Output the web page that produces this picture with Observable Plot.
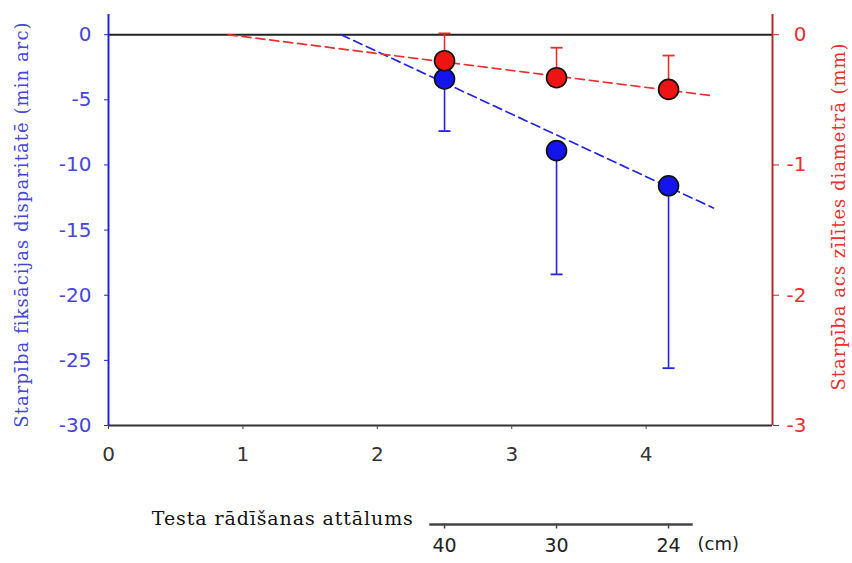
<!DOCTYPE html>
<html><head><meta charset="utf-8">
<script src="https://cdn.jsdelivr.net/npm/d3@7"></script>
<script src="https://cdn.jsdelivr.net/npm/@observablehq/plot@0.6"></script>
<style>body{margin:0;background:#fff}</style>
</head><body><div id="chart"></div>
<script>
// ---- data ----
const xTicks = [0, 1, 2, 3, 4];
const leftTicks = [0, -5, -10, -15, -20, -25, -30];      // min arc
const rightTicks = [0, -1, -2, -3];                      // mm
const distancesCm = [40, 30, 24];                        // test distance
const fixMean = [-3.4, -8.9, -11.6];                     // fixation disparity (min arc)
const fixLow = [-7.4, -18.4, -25.6];                     // lower error bar
const pupilMean = [-0.20, -0.33, -0.42];                 // pupil diameter diff (mm)
const pupilHigh = [0.01, -0.10, -0.16];                  // upper error bar
const fixFitX = [1.73, 4.5];
const fixFitY = [0, -13.3];
const pupilFitX = [0.89, 4.5];
const pupilFitY = [0, -0.47];
const distAxisExtent = [2.39, 4.35];
const xDomain = [0, 4.94];
const yDomain = [-30, 1.55];
const leftTitle = "Starpība fiksācijas disparitātē (min arc)";
const rightTitle = "Starpība acs zīlītes diametrā (mm)";
const distTitle = "Testa rādīšanas attālums";
const distUnit = "(cm)";
const mmScale = 10; // right axis (mm) -> left axis units

const pts = distancesCm.map((d, i) => ({
  x: 100 / d, d,
  fm: fixMean[i], fl: fixLow[i],
  pm: pupilMean[i] * mmScale, ph: pupilHigh[i] * mmScale
}));
const fixFit = fixFitX.map((x, i) => ({x, y: fixFitY[i]}));
const pupilFit = pupilFitX.map((x, i) => ({x, y: pupilFitY[i] * mmScale}));

const BLUE = "#2424dc", BLUE_T = "#4646d8", RED = "#e83030", RED_AX = "#b82828";
const capSym = {draw(ctx) { ctx.moveTo(-6, 0); ctx.lineTo(6, 0); }};
const tickSym = {draw(ctx) { ctx.moveTo(0, -1); ctx.lineTo(0, 4); }};
const SERIF = "'DejaVu Serif', 'Liberation Serif', serif";

const chart = Plot.plot({
  width: 852, height: 563,
  marginLeft: 108, marginRight: 80, marginTop: 14, marginBottom: 138,
  style: {fontFamily: "'DejaVu Sans', Arial, sans-serif", fontSize: "20px", background: "#fff", overflow: "visible"},
  x: {domain: xDomain},
  y: {domain: yDomain},
  marks: [
    Plot.ruleY([yDomain[0]], {stroke: "#333", strokeWidth: 2}),
    Plot.ruleY([0], {stroke: "#222", strokeWidth: 2}),
    Plot.axisX(xTicks, {tickSize: 4, tickPadding: 17, stroke: "#444", fill: "#333", label: null, tickFormat: d => String(d)}),
    Plot.axisY(leftTicks, {anchor: "left", tickSize: 4, tickPadding: 13, stroke: BLUE, fill: BLUE_T, label: null, tickFormat: d => String(d)}),
    Plot.axisY(rightTicks.map(v => v * mmScale), {anchor: "right", tickSize: 6, tickPadding: 28, textAnchor: "end", stroke: RED_AX, fill: RED, label: null, tickFormat: v => String(v / mmScale)}),
    Plot.ruleX([xDomain[0]], {stroke: BLUE, strokeWidth: 2}),
    Plot.ruleX([xDomain[1]], {stroke: RED_AX, strokeWidth: 2}),
    // error bars
    Plot.ruleX(pts, {x: "x", y1: "fm", y2: "fl", stroke: BLUE, strokeWidth: 1.6}),
    Plot.dot(pts, {x: "x", y: "fl", symbol: capSym, fill: "none", stroke: BLUE, strokeWidth: 1.8}),
    Plot.ruleX(pts, {x: "x", y1: "pm", y2: "ph", stroke: RED, strokeWidth: 1.6}),
    Plot.dot(pts, {x: "x", y: "ph", symbol: capSym, fill: "none", stroke: RED, strokeWidth: 1.8}),
    // fits
    Plot.line(fixFit, {x: "x", y: "y", stroke: BLUE, strokeWidth: 1.7, strokeDasharray: "9,5"}),
    Plot.line(pupilFit, {x: "x", y: "y", stroke: RED, strokeWidth: 1.7, strokeDasharray: "9,5"}),
    // points
    Plot.dot(pts, {x: "x", y: "fm", r: 10, fill: "#1414ee", stroke: "#111", strokeWidth: 1.6}),
    Plot.dot(pts, {x: "x", y: "pm", r: 10, fill: "#ee1414", stroke: "#111", strokeWidth: 1.6}),
    // secondary distance axis
    Plot.ruleY([yDomain[0]], {x1: distAxisExtent[0], x2: distAxisExtent[1], dy: 99, stroke: "#444", strokeWidth: 2.5}),
    Plot.dot(distancesCm, {x: d => 100 / d, frameAnchor: "bottom", dy: 99, symbol: tickSym, fill: "none", stroke: "#444", strokeWidth: 1.5}),
    Plot.text(distancesCm, {x: d => 100 / d, text: d => String(d), frameAnchor: "bottom", dy: 126, fontSize: 19, fill: "#222"}),
    Plot.text([distUnit], {x: 100 / distancesCm[distancesCm.length - 1], text: d => d, frameAnchor: "bottom", dy: 124, dx: 29, textAnchor: "start", fontSize: 18, fill: "#222"}),
    Plot.text([distTitle], {x: distAxisExtent[0], text: d => d, frameAnchor: "bottom", dy: 99, dx: -16, textAnchor: "end", fontFamily: SERIF, fontSize: 19, fill: "#111"}),
    // axis titles
    Plot.text([leftTitle], {text: d => d, frameAnchor: "left", textAnchor: "middle", dx: -86, dy: 4.5, rotate: -90, fontFamily: SERIF, fontSize: 18, fill: BLUE_T}),
    Plot.text([rightTitle], {text: d => d, frameAnchor: "right", textAnchor: "middle", dx: 67, dy: -3.5, rotate: -90, fontFamily: SERIF, fontSize: 18, fill: RED})
  ]
});
document.getElementById("chart").append(chart);
// fit serif titles to the reference widths via letter-spacing
const lengths = {[leftTitle]: 406, [rightTitle]: 348, [distTitle]: 262};
chart.querySelectorAll("text").forEach(t => {
  const L = lengths[t.textContent];
  if (L) {
    const n = t.textContent.length;
    const natural = t.getComputedTextLength();
    t.style.letterSpacing = ((L - natural) / n).toFixed(2) + "px";
  }
});
</script>
</body></html>
